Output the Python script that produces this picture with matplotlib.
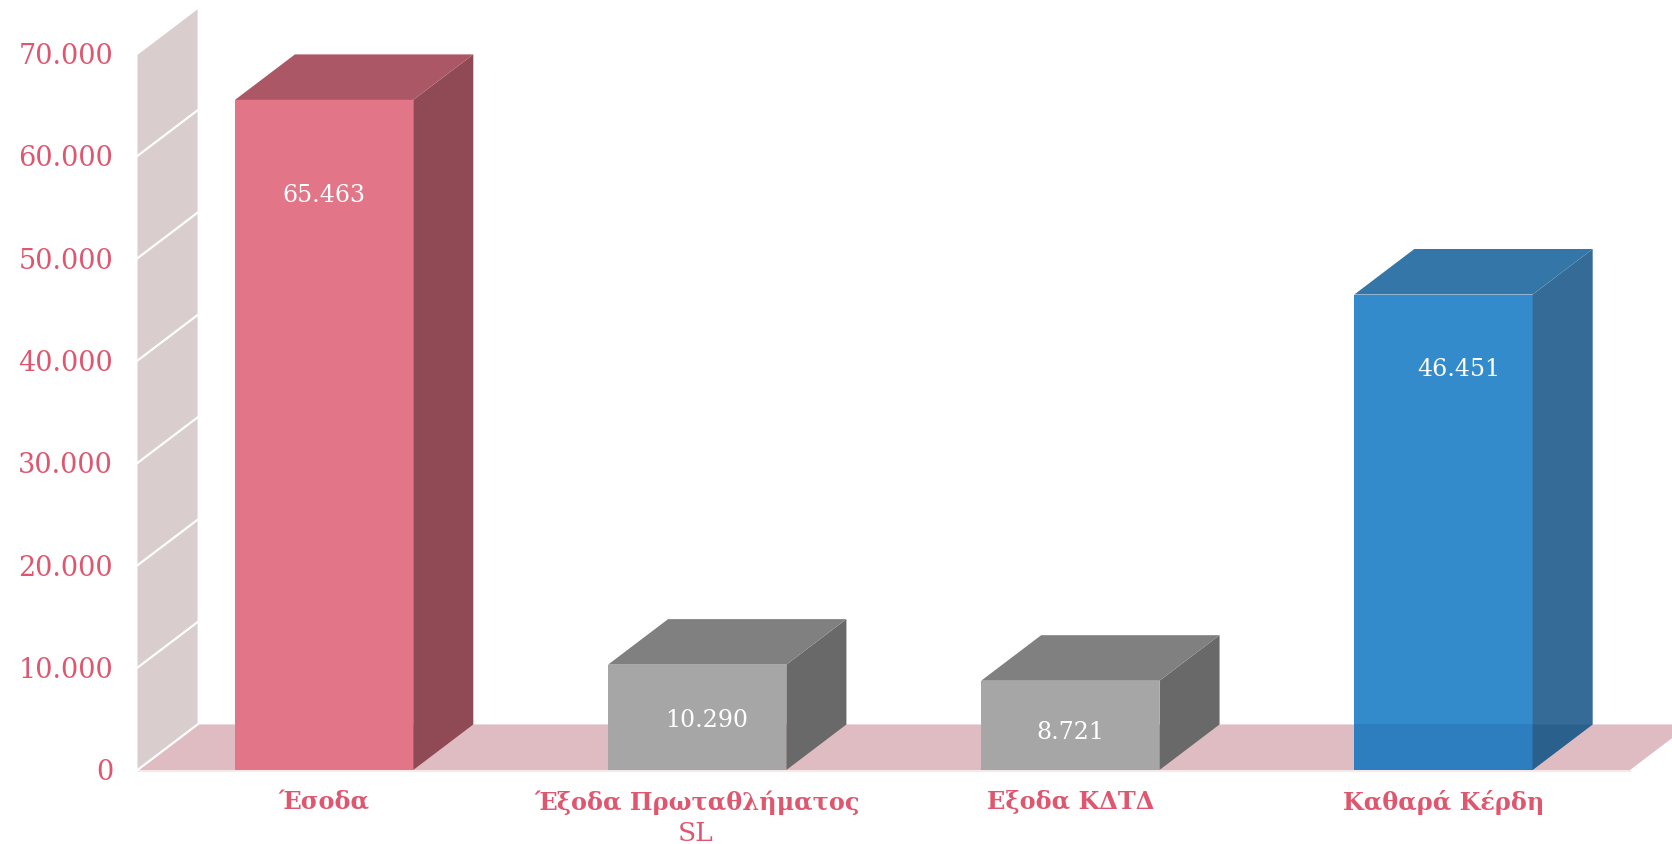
import matplotlib
matplotlib.use("Agg")
import matplotlib.pyplot as plt
from matplotlib.patches import Polygon

categories = ["Έσοδα", "Έξοδα Πρωταθλήματος", "Εξοδα ΚΔΤΔ", "Καθαρά Κέρδη"]
values = [65463, 10290, 8721, 46451]
value_labels = ["65.463", "10.290", "8.721", "46.451"]
y_ticks = [0, 10000, 20000, 30000, 40000, 50000, 60000, 70000]
y_tick_labels = ["0", "10.000", "20.000", "30.000", "40.000", "50.000", "60.000", "70.000"]
sublabel = "SL"

front_colors = ["#E27587", "#A6A6A6", "#A6A6A6", "#338BCC"]
side_colors = ["#904A56", "#696969", "#696969", "#346C97"]
top_colors = ["#AB5766", "#808080", "#808080", "#3576A8"]
label_offsets = [(0, -96), (9, -56), (0, -52), (15, -75)]

W, H = 1672, 844
fig = plt.figure(figsize=(W / 100, H / 100), dpi=100, facecolor="white")
ax = fig.add_axes([137.5 / W, 1 - 770 / H, (1630 - 137.5) / W, (770 - 53.5) / H])
ax.set_xlim(0, 4)
ax.set_ylim(0, 70000)
for s in ax.spines.values():
    s.set_visible(False)
ax.patch.set_alpha(0)

DX, DY = 0.161, 4450
BW = 0.478
PINK = "#DF566F"
SERIF = "DejaVu Serif"


def poly(points, color, z, alpha=None):
    ax.add_patch(Polygon(points, closed=True, facecolor=color, edgecolor="none",
                         zorder=z, alpha=alpha, clip_on=False))


# wall and floor
poly([(0, 0), (DX, DY), (DX, 70000 + DY), (0, 70000)], "#D9CDCE", 1)
poly([(0, 0), (4, 0), (4 + DX, DY), (DX, DY)], "#DFBBC2", 1)
ax.plot([0, 4], [-120, -120], color="#F6E9EB", lw=1.5, zorder=1, clip_on=False)
for t in y_ticks:
    ax.plot([0, DX], [t, t + DY], color="white", lw=1.6, zorder=2, clip_on=False)

# bars
for i, v in enumerate(values):
    c = i + 0.5
    l, r = c - BW / 2, c + BW / 2
    poly([(l, 0), (r, 0), (r, v), (l, v)], front_colors[i], 3)
    poly([(r, 0), (r + DX, DY), (r + DX, v + DY), (r, v)], side_colors[i], 3)
    poly([(l, v), (r, v), (r + DX, v + DY), (l + DX, v + DY)], top_colors[i], 3)
    if i == 3:
        poly([(l, 0), (r, 0), (r, DY), (l, DY)], "#1A5FA0", 4, alpha=0.28)
        poly([(r, 0), (r + DX, DY), (r, DY)], "#1A4A78", 4, alpha=0.35)
    ax.annotate(value_labels[i], xy=(c, v), xytext=(label_offsets[i][0] * 0.72, label_offsets[i][1] * 0.72),
                textcoords="offset points", ha="center", va="center", color="white",
                fontsize=17, family=SERIF, zorder=6)

ax.set_yticks(y_ticks)
ax.set_yticklabels(y_tick_labels, family=SERIF, fontsize=19.5, color=PINK)
ax.set_xticks([i + 0.5 for i in range(4)])
ax.set_xticklabels(categories, family=SERIF, fontsize=17.3, fontweight="bold", color=PINK)
ax.tick_params(axis="y", length=0, pad=17.5)
ax.tick_params(axis="x", length=0, pad=14.5)
ax.annotate(sublabel, xy=(1.5, 0), xytext=(-1, -45.5), textcoords="offset points", ha="center", va="center",
            color=PINK, fontsize=19, family=SERIF)

fig.savefig("out.png", dpi=100, facecolor="white")
